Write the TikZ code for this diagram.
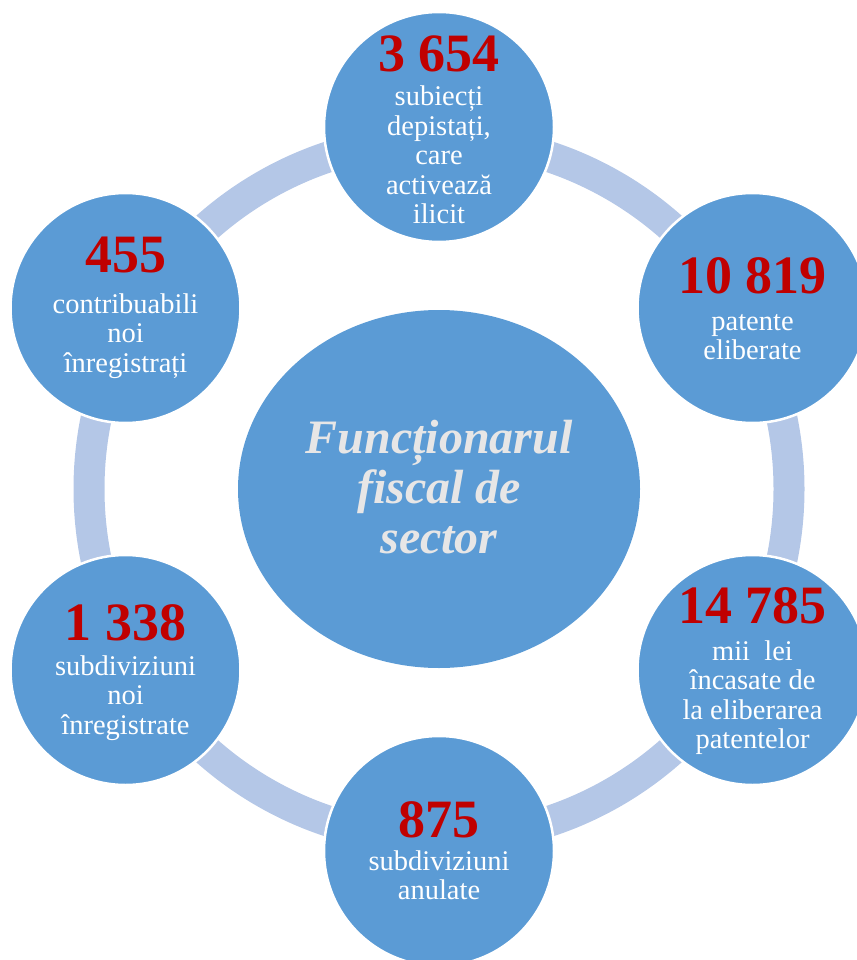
\documentclass[tikz,border=0pt]{standalone}
\usepackage{fontspec}
\setmainfont{Liberation Serif}
\usetikzlibrary{shapes.geometric}
\definecolor{circ}{HTML}{5B9BD5}
\definecolor{ringc}{HTML}{B4C7E7}
\definecolor{numc}{HTML}{C00000}
\definecolor{ctext}{HTML}{E7E6E6}
\begin{document}
\begin{tikzpicture}[x=1pt,y=-1pt,
  sat/.style={circle, fill=circ, draw=white, line width=2.5pt, minimum size=230pt, inner sep=0pt},
  numtxt/.style={anchor=base, text=numc, font=\fontsize{54}{54}\selectfont\bfseries, inner sep=0pt},
  desc/.style={anchor=base, text=white, font=\fontsize{28.5}{29.5}\selectfont, align=flush center, inner sep=0pt, text width=225pt},
  hub/.style={ellipse, fill=circ, minimum width=402pt, minimum height=358pt, inner sep=0pt},
  hubtxt/.style={anchor=base, text=ctext, font=\fontsize{48}{50}\selectfont\bfseries\itshape, align=flush center, inner sep=0pt, text width=380pt}]
\useasboundingbox (0,0) rectangle (856,960);
\coordinate (c) at (439,489);
\draw[ringc, line width=31pt] (c) circle[radius=350pt];
\node[hub] (center) at (c) {};
\node[hubtxt] (ctitle) at (439,453) {Funcționarul\\fiscal de\\sector};
\node[sat] (top) at (439,127) {};
\node[sat] (ru) at (752.5,308) {};
\node[sat] (rd) at (752.5,670) {};
\node[sat] (bot) at (439,851) {};
\node[sat] (ld) at (125.5,670) {};
\node[sat] (lu) at (125.5,308) {};
\node[numtxt] (ntop) at (439,72) {3 654};
\node[desc] (dtop) at (439,106) {subiecți\\depistați,\\care\\activează\\ilicit};
\node[numtxt] (nru) at (752.5,293) {10 819};
\node[desc] (dru) at (752.5,330) {patente\\eliberate};
\node[numtxt] (nrd) at (752.5,623) {14 785};
\node[desc] (drd) at (752.5,660) {mii\ \ lei\\încasate de\\la eliberarea\\patentelor};
\node[numtxt] (nbot) at (439,837) {875};
\node[desc] (dbot) at (439,870) {subdiviziuni\\anulate};
\node[numtxt] (nld) at (125.5,640) {1 338};
\node[desc] (dld) at (125.5,675) {subdiviziuni\\noi\\înregistrate};
\node[numtxt] (nlu) at (125.5,272) {455};
\node[desc] (dlu) at (125.5,313) {contribuabili\\noi\\înregistrați};
\end{tikzpicture}
\end{document}
